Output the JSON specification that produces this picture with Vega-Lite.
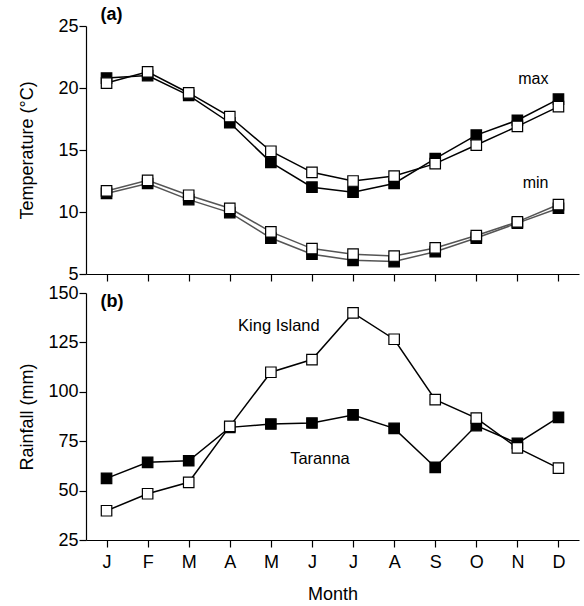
{
  "$schema": "https://vega.github.io/schema/vega-lite/v6.json",
  "background": "white",
  "padding": {"left": 17, "top": 5, "right": 4, "bottom": 0},
  "config": {
    "view": {"stroke": null},
    "font": "Liberation Sans",
    "axis": {"domainColor": "black", "tickColor": "black", "labelColor": "black", "titleColor": "black", "grid": false, "labelFont": "Liberation Sans", "titleFont": "Liberation Sans", "labelFontSize": 18, "titleFontSize": 18, "titleFontWeight": "normal", "tickSize": 7, "labelPadding": 1, "domainWidth": 1.2, "tickWidth": 1.2}
  },
  "datasets": {
    "temp": [
      {"month": "Jan", "m": 1, "site": "Taranna", "type": "max", "value": 20.8},
      {"month": "Feb", "m": 2, "site": "Taranna", "type": "max", "value": 21.0},
      {"month": "Mar", "m": 3, "site": "Taranna", "type": "max", "value": 19.4},
      {"month": "Apr", "m": 4, "site": "Taranna", "type": "max", "value": 17.2},
      {"month": "May", "m": 5, "site": "Taranna", "type": "max", "value": 14.0},
      {"month": "Jun", "m": 6, "site": "Taranna", "type": "max", "value": 12.0},
      {"month": "Jul", "m": 7, "site": "Taranna", "type": "max", "value": 11.6},
      {"month": "Aug", "m": 8, "site": "Taranna", "type": "max", "value": 12.3},
      {"month": "Sep", "m": 9, "site": "Taranna", "type": "max", "value": 14.3},
      {"month": "Oct", "m": 10, "site": "Taranna", "type": "max", "value": 16.2},
      {"month": "Nov", "m": 11, "site": "Taranna", "type": "max", "value": 17.4},
      {"month": "Dec", "m": 12, "site": "Taranna", "type": "max", "value": 19.1},
      {"month": "Jan", "m": 1, "site": "King Island", "type": "max", "value": 20.4},
      {"month": "Feb", "m": 2, "site": "King Island", "type": "max", "value": 21.3},
      {"month": "Mar", "m": 3, "site": "King Island", "type": "max", "value": 19.6},
      {"month": "Apr", "m": 4, "site": "King Island", "type": "max", "value": 17.7},
      {"month": "May", "m": 5, "site": "King Island", "type": "max", "value": 14.9},
      {"month": "Jun", "m": 6, "site": "King Island", "type": "max", "value": 13.2},
      {"month": "Jul", "m": 7, "site": "King Island", "type": "max", "value": 12.5},
      {"month": "Aug", "m": 8, "site": "King Island", "type": "max", "value": 12.9},
      {"month": "Sep", "m": 9, "site": "King Island", "type": "max", "value": 13.9},
      {"month": "Oct", "m": 10, "site": "King Island", "type": "max", "value": 15.4},
      {"month": "Nov", "m": 11, "site": "King Island", "type": "max", "value": 16.9},
      {"month": "Dec", "m": 12, "site": "King Island", "type": "max", "value": 18.5},
      {"month": "Jan", "m": 1, "site": "Taranna", "type": "min", "value": 11.5},
      {"month": "Feb", "m": 2, "site": "Taranna", "type": "min", "value": 12.3},
      {"month": "Mar", "m": 3, "site": "Taranna", "type": "min", "value": 11.0},
      {"month": "Apr", "m": 4, "site": "Taranna", "type": "min", "value": 9.95},
      {"month": "May", "m": 5, "site": "Taranna", "type": "min", "value": 7.9},
      {"month": "Jun", "m": 6, "site": "Taranna", "type": "min", "value": 6.6},
      {"month": "Jul", "m": 7, "site": "Taranna", "type": "min", "value": 6.1},
      {"month": "Aug", "m": 8, "site": "Taranna", "type": "min", "value": 6.0},
      {"month": "Sep", "m": 9, "site": "Taranna", "type": "min", "value": 6.8},
      {"month": "Oct", "m": 10, "site": "Taranna", "type": "min", "value": 7.9},
      {"month": "Nov", "m": 11, "site": "Taranna", "type": "min", "value": 9.1},
      {"month": "Dec", "m": 12, "site": "Taranna", "type": "min", "value": 10.3},
      {"month": "Jan", "m": 1, "site": "King Island", "type": "min", "value": 11.7},
      {"month": "Feb", "m": 2, "site": "King Island", "type": "min", "value": 12.55},
      {"month": "Mar", "m": 3, "site": "King Island", "type": "min", "value": 11.35},
      {"month": "Apr", "m": 4, "site": "King Island", "type": "min", "value": 10.3},
      {"month": "May", "m": 5, "site": "King Island", "type": "min", "value": 8.4},
      {"month": "Jun", "m": 6, "site": "King Island", "type": "min", "value": 7.05},
      {"month": "Jul", "m": 7, "site": "King Island", "type": "min", "value": 6.6},
      {"month": "Aug", "m": 8, "site": "King Island", "type": "min", "value": 6.45},
      {"month": "Sep", "m": 9, "site": "King Island", "type": "min", "value": 7.1},
      {"month": "Oct", "m": 10, "site": "King Island", "type": "min", "value": 8.1},
      {"month": "Nov", "m": 11, "site": "King Island", "type": "min", "value": 9.2},
      {"month": "Dec", "m": 12, "site": "King Island", "type": "min", "value": 10.6}
    ],
    "rain": [
      {"month": "Jan", "m": 1, "site": "Taranna", "value": 56.2},
      {"month": "Feb", "m": 2, "site": "Taranna", "value": 64.3},
      {"month": "Mar", "m": 3, "site": "Taranna", "value": 65.1},
      {"month": "Apr", "m": 4, "site": "Taranna", "value": 82.0},
      {"month": "May", "m": 5, "site": "Taranna", "value": 83.7},
      {"month": "Jun", "m": 6, "site": "Taranna", "value": 84.2},
      {"month": "Jul", "m": 7, "site": "Taranna", "value": 88.3},
      {"month": "Aug", "m": 8, "site": "Taranna", "value": 81.5},
      {"month": "Sep", "m": 9, "site": "Taranna", "value": 61.8},
      {"month": "Oct", "m": 10, "site": "Taranna", "value": 82.9},
      {"month": "Nov", "m": 11, "site": "Taranna", "value": 73.9},
      {"month": "Dec", "m": 12, "site": "Taranna", "value": 87.1},
      {"month": "Jan", "m": 1, "site": "King Island", "value": 39.8},
      {"month": "Feb", "m": 2, "site": "King Island", "value": 48.4},
      {"month": "Mar", "m": 3, "site": "King Island", "value": 54.2},
      {"month": "Apr", "m": 4, "site": "King Island", "value": 82.5},
      {"month": "May", "m": 5, "site": "King Island", "value": 109.9},
      {"month": "Jun", "m": 6, "site": "King Island", "value": 116.3},
      {"month": "Jul", "m": 7, "site": "King Island", "value": 139.9},
      {"month": "Aug", "m": 8, "site": "King Island", "value": 126.6},
      {"month": "Sep", "m": 9, "site": "King Island", "value": 96.0},
      {"month": "Oct", "m": 10, "site": "King Island", "value": 86.7},
      {"month": "Nov", "m": 11, "site": "King Island", "value": 71.6},
      {"month": "Dec", "m": 12, "site": "King Island", "value": 61.4}
    ],
    "tempLabels": [
      {"label": "(a)", "month": "Jan", "value": 25.9, "kind": "panel"},
      {"label": "max", "month": "Dec", "value": 20.7, "kind": "series"},
      {"label": "min", "month": "Dec", "value": 12.3, "kind": "series"}
    ],
    "rainLabels": [
      {"label": "(b)", "month": "Jan", "value": 145.2},
      {"label": "King Island", "month": "May", "value": 133.3},
      {"label": "Taranna", "month": "Jun", "value": 66.0}
    ]
  },
  "spacing": 1,
  "vconcat": [
    {
      "width": 493,
      "height": 248,
      "layer": [
        {
          "data": {"name": "temp"},
          "mark": {"type": "line", "strokeWidth": 1.5},
          "encoding": {
            "x": {"field": "month", "type": "ordinal", "sort": ["Jan","Feb","Mar","Apr","May","Jun","Jul","Aug","Sep","Oct","Nov","Dec"], "scale": {"type": "point", "padding": 0.5}, "axis": {"labels": false, "title": null}},
            "y": {"field": "value", "type": "quantitative", "scale": {"domain": [5, 25], "nice": false}, "axis": {"values": [5, 10, 15, 20, 25], "title": "Temperature (°C)", "titleX": -50}},
            "detail": [{"field": "site"}, {"field": "type"}],
            "color": {"field": "type", "type": "nominal", "scale": {"domain": ["max", "min"], "range": ["black", "#555555"]}, "legend": null},
            "order": {"field": "m", "type": "quantitative"}
          }
        },
        {
          "data": {"name": "temp"},
          "mark": {"type": "point", "shape": "square", "size": 110, "stroke": "black", "strokeWidth": 1.2, "opacity": 1, "filled": true},
          "encoding": {
            "x": {"field": "month", "type": "ordinal", "sort": ["Jan","Feb","Mar","Apr","May","Jun","Jul","Aug","Sep","Oct","Nov","Dec"]},
            "y": {"field": "value", "type": "quantitative"},
            "fill": {"field": "site", "type": "nominal", "scale": {"domain": ["King Island", "Taranna"], "range": ["white", "black"]}, "legend": null},
            "order": {"field": "site", "sort": "descending"}
          }
        },
        {
          "data": {"name": "tempLabels"},
          "transform": [{"filter": "datum.kind == 'panel'"}],
          "mark": {"type": "text", "align": "left", "dx": -6, "fontSize": 18, "fontWeight": "bold", "color": "black"},
          "encoding": {
            "x": {"field": "month", "type": "ordinal", "sort": ["Jan","Feb","Mar","Apr","May","Jun","Jul","Aug","Sep","Oct","Nov","Dec"]},
            "y": {"field": "value", "type": "quantitative"},
            "text": {"field": "label"}
          }
        },
        {
          "data": {"name": "tempLabels"},
          "transform": [{"filter": "datum.kind == 'series'"}],
          "mark": {"type": "text", "align": "right", "dx": -10, "fontSize": 16, "color": "black"},
          "encoding": {
            "x": {"field": "month", "type": "ordinal", "sort": ["Jan","Feb","Mar","Apr","May","Jun","Jul","Aug","Sep","Oct","Nov","Dec"]},
            "y": {"field": "value", "type": "quantitative"},
            "text": {"field": "label"}
          }
        }
      ]
    },
    {
      "width": 493,
      "height": 247,
      "layer": [
        {
          "data": {"name": "rain"},
          "mark": {"type": "line", "strokeWidth": 1.5, "color": "black"},
          "encoding": {
            "x": {"field": "month", "type": "ordinal", "sort": ["Jan","Feb","Mar","Apr","May","Jun","Jul","Aug","Sep","Oct","Nov","Dec"], "scale": {"type": "point", "padding": 0.5}, "axis": {"title": "Month", "labelAngle": 0, "labelPadding": 6, "titlePadding": 14, "labelExpr": "substring(datum.label, 0, 1)"}},
            "y": {"field": "value", "type": "quantitative", "scale": {"domain": [25, 150], "nice": false}, "axis": {"values": [25, 50, 75, 100, 125, 150], "title": "Rainfall (mm)", "titleX": -50}},
            "detail": {"field": "site"},
            "order": {"field": "m", "type": "quantitative"}
          }
        },
        {
          "data": {"name": "rain"},
          "mark": {"type": "point", "shape": "square", "size": 110, "stroke": "black", "strokeWidth": 1.2, "opacity": 1, "filled": true},
          "encoding": {
            "x": {"field": "month", "type": "ordinal", "sort": ["Jan","Feb","Mar","Apr","May","Jun","Jul","Aug","Sep","Oct","Nov","Dec"]},
            "y": {"field": "value", "type": "quantitative"},
            "fill": {"field": "site", "type": "nominal", "scale": {"domain": ["King Island", "Taranna"], "range": ["white", "black"]}, "legend": null},
            "order": {"field": "site", "sort": "descending"}
          }
        },
        {
          "data": {"name": "rainLabels"},
          "transform": [{"filter": "datum.label == '(b)'"}],
          "mark": {"type": "text", "align": "left", "dx": -6, "fontSize": 18, "fontWeight": "bold", "color": "black"},
          "encoding": {
            "x": {"field": "month", "type": "ordinal", "sort": ["Jan","Feb","Mar","Apr","May","Jun","Jul","Aug","Sep","Oct","Nov","Dec"]},
            "y": {"field": "value", "type": "quantitative"},
            "text": {"field": "label"}
          }
        },
        {
          "data": {"name": "rainLabels"},
          "transform": [{"filter": "datum.label != '(b)'"}],
          "mark": {"type": "text", "align": "center", "dx": 8, "fontSize": 16.5, "color": "black"},
          "encoding": {
            "x": {"field": "month", "type": "ordinal", "sort": ["Jan","Feb","Mar","Apr","May","Jun","Jul","Aug","Sep","Oct","Nov","Dec"]},
            "y": {"field": "value", "type": "quantitative"},
            "text": {"field": "label"}
          }
        }
      ]
    }
  ]
}
